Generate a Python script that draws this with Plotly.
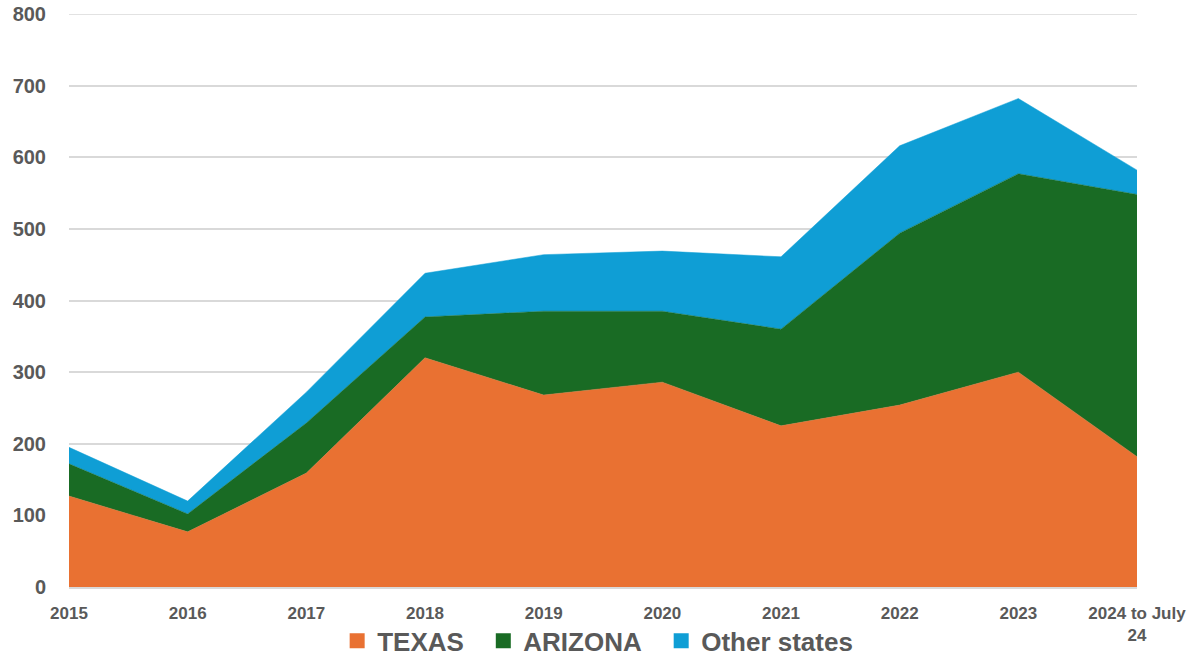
import plotly.graph_objects as go

years = ["2015", "2016", "2017", "2018", "2019", "2020", "2021", "2022", "2023", "2024 to July<br>24"]
texas = [127, 77, 159, 320, 268, 286, 225, 254, 300, 182]
arizona = [45, 25, 70, 57, 117, 99, 135, 240, 277, 366]
other = [23, 18, 43, 61, 79, 84, 101, 122, 105, 34]
y_max = 800
y_step = 100

series = [("TEXAS", texas, "#E97132"), ("ARIZONA", arizona, "#196B24"), ("Other states", other, "#0F9ED5")]

fig = go.Figure()
for name, vals, col in series:
    fig.add_trace(go.Scatter(
        x=years, y=vals, name=name, mode="lines", stackgroup="one",
        line=dict(width=0.5, color=col), fillcolor=col, showlegend=False,
    ))
# legend entries with square swatches (no data drawn)
pad = "\u00a0\u00a0"
for i, (name, vals, col) in enumerate(series):
    fig.add_trace(go.Scatter(
        x=[None], y=[None], name=name + (pad if i < len(series) - 1 else ""), mode="markers",
        marker=dict(symbol="square", size=15, color=col), showlegend=True,
    ))

# top gridline (plotly hides gridlines sitting on the plot edge)
fig.add_shape(type="line", xref="paper", x0=0, x1=1, yref="y", y0=y_max, y1=y_max,
              line=dict(color="#D9D9D9", width=1.5), layer="below")

fig.update_layout(
    width=1190, height=658,
    margin=dict(l=69, r=53, t=14, b=71, autoexpand=False),
    plot_bgcolor="white", paper_bgcolor="white",
    font=dict(family="Liberation Sans, Arial, sans-serif", color="#595959"),
    showlegend=True,
    legend=dict(orientation="h", x=0.495, xanchor="center", y=-0.094, yanchor="middle",
                traceorder="normal", bgcolor="rgba(0,0,0,0)",
                font=dict(size=26, color="#595959", family="Liberation Sans, Arial, sans-serif", weight="bold"),
                itemwidth=30, tracegroupgap=0),
    hovermode=False,
)
fig.update_xaxes(
    type="category", range=[0, 9], showgrid=False, automargin=False,
    showline=True, linecolor="#D9D9D9", linewidth=1.5,
    tickfont=dict(size=17, color="#595959", weight="bold"),
    ticks="", ticklabelstandoff=10,
)
fig.update_yaxes(
    range=[0, y_max], tickvals=list(range(0, y_max + 1, y_step)),
    showgrid=True, gridcolor="#D9D9D9", gridwidth=1.5, automargin=False,
    zeroline=False, showline=False,
    tickfont=dict(size=20, color="#595959", weight="bold"),
    ticks="", ticklabelstandoff=22,
)
fig.write_html("out.html", config={"displayModeBar": False},
               post_script="document.body.style.margin='0';")
